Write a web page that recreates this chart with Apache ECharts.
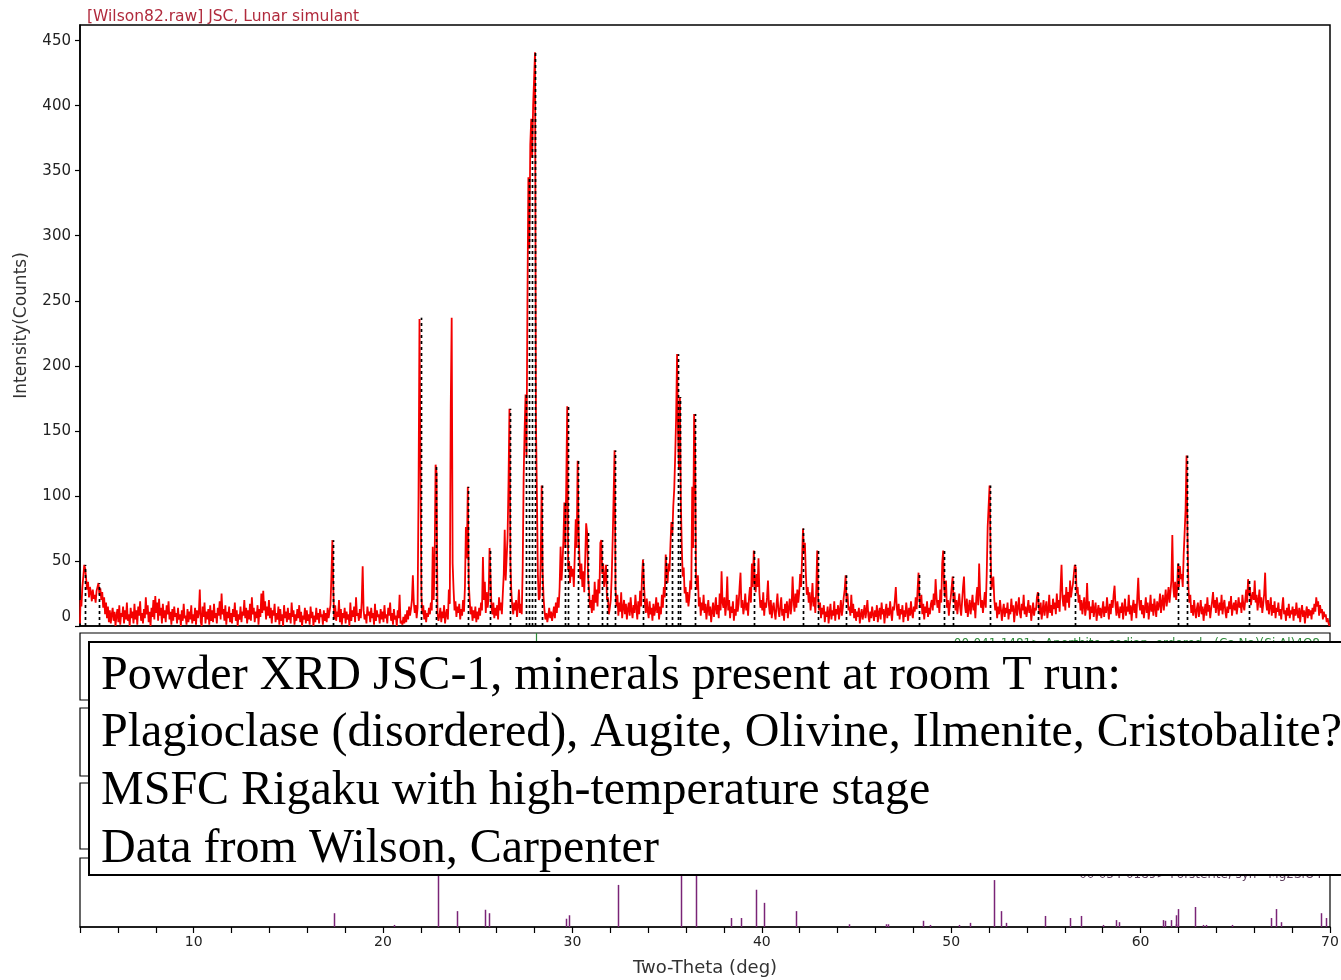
<!DOCTYPE html>
<html>
<head>
<meta charset="utf-8">
<title>JSC-1 powder XRD</title>
<script src="https://cdn.jsdelivr.net/npm/echarts@6/dist/echarts.min.js"></script>
<style>
  html, body { margin: 0; padding: 0; background: #fff; }
  #chart { width: 1341px; height: 980px; }
</style>
</head>
<body>
<div id="chart"></div>
<script>
// ---- scan: counts every 0.05 deg two-theta, 4.00 .. 70.00 ----
const titleText = '[Wilson82.raw] JSC, Lunar simulant';
const scanStart = 4.0;
const scanStep = 0.05;

const scan04to10 = [
  2,20,15,30,38,47,44,36,28,34,22,30,26,19,28,21,24,18,27,30,
  33,24,29,20,26,14,22,9,18,6,15,3,12,2,9,14,4,11,0,8,
  13,3,16,1,10,7,15,2,12,5,18,4,9,0,14,6,11,2,17,5,
  12,1,15,8,19,4,10,2,13,6,22,9,16,3,11,0,14,7,20,5,
  23,10,18,4,21,8,14,2,17,6,12,3,16,9,19,5,11,1,13,4,
  15,7,10,2,14,5,9,0,12,4,17,6,8,1,13,3,11,5,16,2
];
const scan10to20 = [
  9,4,14,1,12,6,10,28,3,0,15,7,18,2,11,5,13,1,16,4,
  12,3,17,6,10,2,14,8,19,5,25,9,13,4,16,1,11,6,15,3,
  10,2,13,7,18,4,12,0,9,5,15,3,11,8,20,6,14,2,12,5,
  17,4,22,9,14,3,11,6,16,1,13,7,25,10,27,12,19,5,15,8,
  20,6,14,2,12,8,17,3,10,5,15,1,13,4,9,0,16,6,11,3,
  14,5,10,2,18,7,12,1,9,4,13,6,16,3,11,0,8,5,14,2,
  12,4,9,1,15,6,11,0,8,3,14,5,10,2,13,7,9,1,12,4,
  10,3,14,6,11,16,38,66,28,5,16,4,11,7,20,3,13,1,10,6,
  14,2,11,5,9,0,18,4,12,7,15,3,22,8,10,4,13,6,19,46,
  12,5,9,2,15,8,11,3,14,6,10,1,17,4,12,7,9,2,13,5
];
const scan20to30 = [
  11,3,16,6,9,2,14,8,18,4,10,1,13,5,8,0,12,6,24,2,
  4,1,7,2,9,3,12,5,15,8,13,20,39,18,10,16,6,14,102,236,
  237,24,9,16,5,12,3,10,7,14,9,18,12,61,20,48,124,118,10,4,
  8,14,3,11,6,16,2,9,13,5,28,17,168,237,48,28,12,19,7,15,
  10,17,5,13,8,20,11,30,76,52,107,33,20,9,15,4,12,6,15,3,
  11,5,14,8,18,12,53,20,34,10,26,14,22,60,38,15,9,18,6,14,
  8,16,5,22,12,18,9,25,40,74,35,52,68,110,167,48,26,15,9,18,
  12,20,7,15,28,10,17,9,45,115,150,178,130,250,345,290,370,390,360,400,
  420,441,156,100,40,20,22,50,108,43,22,12,5,10,3,8,14,6,11,4,
  9,15,6,18,10,22,14,30,61,35,48,66,95,60,110,169,43,50,33,46
];
const scan30to40 = [
  38,44,30,55,82,60,127,74,50,36,48,30,42,26,52,79,72,38,28,14,
  20,10,24,12,34,18,28,15,36,25,64,66,40,48,30,38,47,20,22,9,
  14,20,38,66,100,135,29,15,24,8,18,11,26,6,14,20,9,17,5,13,
  18,8,22,12,6,16,10,24,14,5,19,9,27,15,38,51,34,18,10,21,
  12,6,19,9,14,4,17,8,13,22,10,18,5,15,9,24,14,30,22,55,
  40,33,48,42,62,80,70,92,105,130,160,209,150,120,176,95,60,38,45,25,
  30,18,26,15,22,35,28,107,60,163,140,39,28,39,15,22,8,18,12,24,
  10,17,5,13,20,8,15,3,11,18,7,14,22,9,16,6,25,12,42,18,
  14,22,8,17,38,12,20,6,15,10,19,4,13,8,24,11,17,30,41,14,
  20,9,15,25,12,18,8,22,30,18,48,30,58,34,26,40,30,52,25,14
];
const scan40to50 = [
  20,12,26,8,18,14,22,35,16,9,20,6,14,18,10,5,16,25,12,7,
  15,22,8,13,4,17,10,19,6,14,21,9,16,38,20,11,25,14,28,18,
  26,40,30,52,75,56,64,40,24,30,18,26,12,20,33,15,22,10,28,58,
  20,12,18,6,14,9,16,3,11,7,15,2,10,17,5,12,8,19,4,13,
  9,16,5,12,20,8,14,22,28,39,18,25,12,15,8,24,10,17,6,13,
  4,11,7,14,2,9,13,5,10,16,6,12,20,8,3,11,6,15,9,4,
  12,7,16,3,10,14,5,18,9,13,2,11,17,6,14,8,19,10,4,15,
  12,20,30,14,8,17,5,13,9,16,3,12,7,18,11,4,14,8,19,10,
  6,15,11,22,13,28,41,20,14,24,9,17,5,15,10,19,7,14,9,17,
  20,12,25,16,36,22,14,20,10,28,18,48,58,30,22,35,14,20,8,16
];
const scan50to60 = [
  22,30,38,18,26,12,20,9,17,25,14,8,19,30,38,16,10,21,7,14,
  20,9,16,24,12,18,6,22,30,16,48,25,14,20,10,18,26,14,40,76,
  92,108,60,28,34,38,20,12,18,6,15,9,20,13,4,12,17,7,14,10,
  18,5,13,9,21,11,16,3,12,19,8,14,22,10,6,17,12,24,9,15,
  7,13,20,10,16,4,11,18,8,14,12,22,26,15,9,18,5,12,20,8,
  14,19,6,12,24,10,16,8,21,13,18,9,25,14,20,11,30,47,22,15,
  24,12,30,18,26,14,35,22,28,32,40,47,45,25,30,18,24,12,20,9,
  16,22,8,14,33,12,19,5,15,10,20,7,13,18,4,11,16,8,14,6,
  12,19,7,15,10,22,13,5,17,9,20,14,24,31,16,8,19,11,6,15,
  10,18,5,13,21,8,15,11,24,9,16,4,14,20,10,17,6,22,37,18
];
const scan60to70 = [
  12,20,9,16,6,14,22,10,18,5,13,24,11,17,8,21,14,7,19,12,
  16,25,10,18,24,12,20,28,15,22,30,18,26,35,70,30,22,34,20,28,
  48,30,46,36,40,30,55,72,90,131,70,30,18,24,10,16,8,20,12,6,
  14,18,7,13,20,9,15,4,12,17,8,22,11,16,6,13,19,26,14,20,
  10,22,15,8,18,12,24,9,16,20,11,6,15,10,19,13,23,8,14,18,
  12,20,9,15,22,14,18,10,24,16,12,20,28,18,36,24,30,16,22,26,
  20,35,18,24,12,20,28,14,22,10,17,25,41,18,12,20,9,15,22,8,
  16,10,19,6,14,11,18,8,13,5,15,22,9,12,4,14,8,17,6,12,
  9,15,4,13,8,18,10,6,14,3,11,16,7,12,2,10,15,6,13,8,
  12,5,14,9,17,11,22,15,19,8,16,10,13,5,11,7,9,3,6,2,
  0
];

// two-theta of the peaks picked by the search (dashed markers)
const peakPositions = [
  4.25, 5.0, 17.35, 22.0, 22.8, 24.5, 25.65, 26.7, 27.55, 27.7, 27.85, 28.05,
  28.4, 29.6, 29.75, 30.3, 30.8, 31.55, 31.8, 32.25, 33.75, 34.95, 35.25,
  35.55, 35.7, 36.45, 39.6, 42.2, 42.95, 44.45, 48.3, 49.6, 50.1, 52.05,
  54.6, 56.55, 62.0, 62.45, 65.7
];

// reference cards: [two-theta, relative intensity]
const plagioclaseCard = '00-041-1481> Anorthite, sodian, ordered - (Ca,Na)(Si,Al)4O8';
const plagioclaseSticks = [[28.08, 100]];
const olivineCard = '00-034-0189> Forsterite, syn - Mg2SiO4';
const olivineSticks = [
  [17.4, 20], [20.56, 3], [22.88, 100], [23.9, 23], [25.4, 25], [25.6, 20],
  [29.64, 12], [29.8, 17], [32.4, 61], [35.72, 95], [36.5, 88], [38.36, 13],
  [38.9, 13], [39.69, 54], [40.12, 35], [41.8, 23], [44.6, 4], [46.55, 4],
  [46.65, 4], [48.5, 9], [48.9, 3], [50.4, 3], [51.0, 6], [52.28, 68],
  [52.64, 23], [52.88, 6], [54.93, 16], [56.27, 13], [56.87, 16], [58.04, 3],
  [58.7, 10], [58.86, 7], [61.2, 10], [61.3, 9], [61.6, 10], [61.85, 4],
  [61.88, 17], [61.99, 26], [62.85, 29], [63.3, 3], [63.45, 3], [64.84, 3],
  [66.9, 13], [67.17, 26], [67.4, 7], [69.53, 20], [69.8, 13]
];

// axis ticks and labels
const intensityTicks = [0, 50, 100, 150, 200, 250, 300, 350, 400, 450];
const twoThetaTicks = [4, 6, 8, 10, 12, 14, 16, 18, 20, 22, 24, 26, 28, 30, 32, 34, 36,
  38, 40, 42, 44, 46, 48, 50, 52, 54, 56, 58, 60, 62, 64, 66, 68, 70];
const twoThetaLabels = [10, 20, 30, 40, 50, 60, 70];

const noteLines = [
  'Powder XRD JSC-1, minerals present at room T run:',
  'Plagioclase (disordered), Augite, Olivine, Ilmenite, Cristobalite?',
  'MSFC Rigaku with high-temperature stage',
  'Data from Wilson, Carpenter'
];

// ---- build series data ----
const scanCounts = [].concat(scan04to10, scan10to20, scan20to30, scan30to40,
  scan40to50, scan50to60, scan60to70);
const tracePoints = scanCounts.map((c, i) => [+(scanStart + i * scanStep).toFixed(2), c]);
const peakMarkers = peakPositions.map(p => [p, scanCounts[Math.round((p - scanStart) / scanStep)]]);

function verticalStick(color, width, dash) {
  return function (params, api) {
    const base = api.coord([api.value(0), 0]);
    const top = api.coord([api.value(0), api.value(1)]);
    const px = Math.round(base[0]) + 0.5;
    return {
      type: 'line',
      silent: true,
      shape: { x1: px, y1: base[1], x2: px, y2: top[1] },
      style: { stroke: color, lineWidth: width, lineDash: dash || null }
    };
  };
}

const sans = '"DejaVu Sans", sans-serif';
const frame = { show: true, borderColor: '#000', borderWidth: 1.2, backgroundColor: 'transparent', outerBoundsMode: 'none', containLabel: false };
const hiddenX = gi => ({ gridIndex: gi, type: 'value', min: 4, max: 70, show: false });
const hiddenY = gi => ({ gridIndex: gi, type: 'value', min: 0, max: 100, show: false });

const chart = echarts.init(document.getElementById('chart'), null, { renderer: 'canvas' });
chart.setOption({
  animation: false,
  backgroundColor: '#fff',
  title: {
    text: titleText,
    left: 82, top: 4,
    textStyle: { fontFamily: sans, fontSize: 15.5, fontWeight: 'normal', color: '#b02a3c' }
  },
  grid: [
    Object.assign({}, frame, { left: 80, right: 11, top: 25, height: 601, borderWidth: 1.5 }),
    Object.assign({}, frame, { left: 80, right: 11, top: 633, height: 67 }),
    Object.assign({}, frame, { left: 80, right: 11, top: 708, height: 68 }),
    Object.assign({}, frame, { left: 80, right: 11, top: 783, height: 66 }),
    Object.assign({}, frame, { left: 80, right: 11, top: 858, height: 69 })
  ],
  xAxis: [
    {
      gridIndex: 0, type: 'value', min: 4, max: 70,
      axisLine: { show: true, onZero: false, lineStyle: { color: '#000', width: 1.5 } },
      axisTick: { show: false }, axisLabel: { show: false }, splitLine: { show: false }
    },
    hiddenX(1), hiddenX(2), hiddenX(3),
    {
      gridIndex: 4, type: 'value', min: 4, max: 70,
      axisLine: { show: true, onZero: false, lineStyle: { color: '#000', width: 1.5 } },
      axisTick: { show: true, customValues: twoThetaTicks, length: 6, lineStyle: { color: '#000', width: 1.2 } },
      axisLabel: { customValues: twoThetaLabels, fontFamily: sans, fontSize: 14, color: '#222', margin: 8 },
      splitLine: { show: false },
      name: 'Two-Theta (deg)', nameLocation: 'middle', nameGap: 32,
      nameTextStyle: { fontFamily: sans, fontSize: 18, color: '#333' }
    }
  ],
  yAxis: [
    {
      gridIndex: 0, type: 'value', min: 0, max: 462,
      axisLine: { show: true, lineStyle: { color: '#000', width: 1.5 } },
      axisTick: { show: true, customValues: intensityTicks, length: 5, lineStyle: { color: '#000', width: 1.2 } },
      axisLabel: {
        customValues: intensityTicks, fontFamily: sans, fontSize: 15, color: '#222', margin: 9,
        formatter: v => (v === 0 ? '{zero|0}' : String(v)),
        rich: { zero: { fontFamily: sans, fontSize: 15, color: '#222', padding: [0, 0, 18, 0] } }
      },
      splitLine: { show: false },
      name: 'Intensity(Counts)', nameLocation: 'middle', nameGap: 50, nameRotate: 90,
      nameTextStyle: { fontFamily: sans, fontSize: 17, color: '#333' }
    },
    hiddenY(1), hiddenY(2), hiddenY(3), hiddenY(4)
  ],
  series: [
    {
      type: 'line', xAxisIndex: 0, yAxisIndex: 0, data: tracePoints,
      step: 'middle', showSymbol: false, symbol: 'none', silent: true, z: 2,
      lineStyle: { color: '#f40000', width: 1.8 }
    },
    {
      type: 'custom', xAxisIndex: 0, yAxisIndex: 0, data: peakMarkers, z: 3,
      renderItem: verticalStick('#000', 1.7, [3, 3])
    },
    {
      type: 'custom', xAxisIndex: 1, yAxisIndex: 1, data: plagioclaseSticks, z: 3,
      renderItem: verticalStick('#2e8b3a', 1.2)
    },
    {
      type: 'custom', xAxisIndex: 4, yAxisIndex: 4, data: olivineSticks, z: 3,
      renderItem: verticalStick('#7a2477', 1.5)
    }
  ],
  graphic: [
    {
      type: 'text', x: 1320, y: 638, z: 40, silent: true,
      style: { text: plagioclaseCard, font: '12px ' + sans, fill: '#2e8b3a', textAlign: 'right', textVerticalAlign: 'top' }
    },
    {
      type: 'text', x: 1322, y: 881, z: 40, silent: true,
      style: { text: olivineCard, font: '12px ' + sans, fill: '#5a3a5a', textAlign: 'right', textVerticalAlign: 'bottom' }
    },
    {
      type: 'rect', z: 100, silent: true,
      shape: { x: 89, y: 642, width: 1300, height: 233 },
      style: { fill: '#fff', stroke: '#000', lineWidth: 2 }
    }
  ].concat(noteLines.map((line, i) => ({
    type: 'text', x: 101, y: 676 + i * 57.7, z: 101, silent: true,
    style: { text: line, font: '48px "Liberation Serif", "Times New Roman", serif', fill: '#000', textVerticalAlign: 'middle' }
  })))
});
</script>
</body>
</html>
